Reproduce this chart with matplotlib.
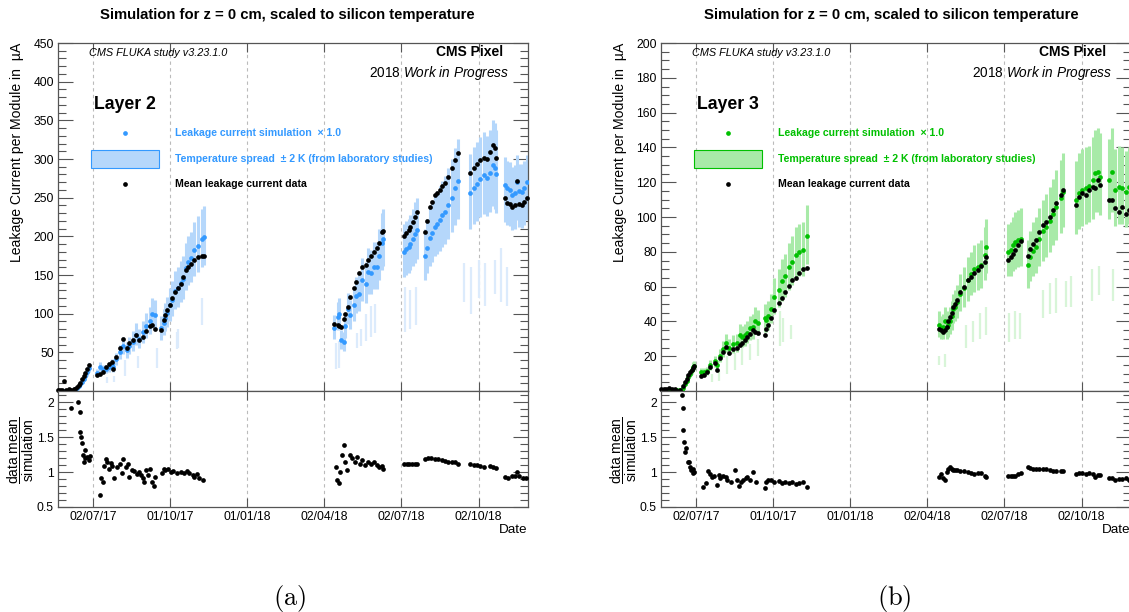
import numpy as np
import matplotlib
matplotlib.use("Agg")
import matplotlib.pyplot as plt
import matplotlib.dates as mdates
from matplotlib.patches import Rectangle
from matplotlib.ticker import MultipleLocator, FixedLocator, FixedFormatter

plt.rcParams['font.family'] = ['Liberation Sans', 'DejaVu Sans']
plt.rcParams['mathtext.fontset'] = 'custom'
plt.rcParams['mathtext.rm'] = 'Liberation Sans'
plt.rcParams['mathtext.it'] = 'Liberation Sans:italic'
plt.rcParams['mathtext.bf'] = 'Liberation Sans:bold'

# days are counted from 02/07/17
T0 = np.datetime64('2017-07-02')
grid_dates = ['2017-07-02', '2017-10-01', '2018-01-01', '2018-04-02', '2018-07-02', '2018-10-02']

# ---------------- Layer 2 ----------------
l2_day = [-41, -39, -37, -34, -32, -29, -26, -23, -21, -19, -17, -15, -13, -11, -9, -7, -5,
          5, 8, 12, 15, 19, 22, 24, 27, 32, 36, 40, 43, 47, 51, 55, 59, 63, 67, 70, 73,
          81, 84, 85, 88, 91, 94, 97, 101, 104, 107, 110, 113, 116, 120, 125, 129, 131,
          286, 290, 292, 294, 297, 299, 302, 305, 309, 312, 315, 319, 324, 326, 330, 333, 336, 339, 342, 344,
          369, 371, 374, 376, 379, 382, 384,
          393, 396, 399, 402, 405, 408, 411, 414, 417, 421, 425, 429, 433,
          447, 451, 455, 459, 463, 467, 470, 474, 476, 478,
          488, 491, 494, 497, 500, 502, 505, 508, 511, 514]
l2_data = [1, 1, 1, 13, 1, 2, 1, 2, 3, 5, 8, 11, 15, 19, 23, 28, 33,
           21, 22, 25, 31, 35, 38, 29, 44, 55, 67, 55, 62, 66, 72, 66, 70, 77, 84, 85, 80,
           79, 92, 98, 105, 111, 120, 128, 133, 139, 148, 156, 160, 164, 169, 173, 174, 174,
           87, 85, 84, 83, 93, 100, 109, 122, 133, 141, 152, 160, 163, 169, 175, 180, 185, 192, 205, 207,
           200, 204, 208, 212, 219, 225, 231,
           206, 220, 238, 245, 253, 256, 260, 265, 269, 277, 288, 299, 308,
           282, 289, 294, 299, 301, 300, 309, 318, 314, 301,
           249, 243, 242, 238, 240, 271, 242, 240, 245, 249]
l2_sim = [0.5, 0.5, 0.5, 0.5, 0.5, 0.5, 0.5, 1, 2, 4, 6, 9, 12, 16, 20, 25, 30,
          23, 31, 28, 28, 31, 35, 31, 41, 50, 58, 53, 58, 64, 73, 67, 76, 84, 90, 100, 98,
          81, 88, 95, 101, 111, 118, 129, 133, 140, 145, 159, 167, 172, 182, 188, 196, 199,
          82, 96, 100, 66, 63, 84, 106, 98, 111, 123, 125, 143, 139, 154, 152, 161, 161, 175, 192, 197,
          180, 183, 186, 190, 197, 203, 208,
          174, 185, 198, 204, 212, 216, 221, 227, 232, 240, 250, 262, 272,
          256, 263, 268, 274, 279, 275, 282, 292, 288, 281,
          266, 262, 260, 254, 256, 270, 258, 257, 262, 270]
l2_lo = [0.5, 0.5, 0.5, 0.5, 0.5, 0.5, 0.5, 1, 2, 3, 5, 7, 10, 13, 16, 20, 25,
         19, 25, 23, 23, 25, 29, 25, 34, 41, 48, 43, 48, 52, 60, 55, 62, 69, 74, 82, 80,
         66, 72, 78, 83, 91, 97, 106, 109, 115, 119, 130, 137, 141, 149, 154, 161, 163,
         67, 79, 82, 54, 52, 69, 87, 80, 91, 101, 103, 117, 114, 126, 125, 132, 132, 144, 157, 162,
         148, 150, 153, 156, 162, 166, 171,
         143, 152, 162, 167, 174, 177, 181, 186, 190, 197, 205, 215, 223,
         210, 216, 220, 225, 229, 226, 231, 239, 236, 230,
         218, 215, 213, 208, 210, 221, 212, 211, 215, 221]
l2_hi = [0.5, 0.5, 0.5, 0.5, 0.5, 0.5, 0.5, 1, 2, 5, 7, 11, 14, 19, 24, 30, 36,
         28, 37, 34, 34, 37, 42, 37, 49, 60, 70, 64, 70, 77, 88, 80, 91, 101, 108, 120, 118,
         97, 106, 114, 121, 133, 142, 155, 160, 168, 174, 191, 200, 206, 218, 226, 235, 239,
         98, 115, 120, 79, 76, 101, 127, 118, 133, 148, 150, 172, 167, 185, 182, 193, 193, 210, 230, 236,
         216, 220, 223, 228, 236, 244, 250,
         209, 222, 238, 245, 254, 259, 265, 272, 278, 288, 300, 314, 326,
         307, 316, 322, 329, 335, 330, 338, 350, 346, 337,
         302, 298, 296, 290, 292, 305, 294, 293, 298, 305]
l2_rday = [-26, -18, -16, -15, -14, -13, -12, -11, -10, -9, -7, -5, -4,
           8, 10, 12, 13, 15, 17, 19, 21, 23, 25, 29, 32, 34, 36, 39, 42, 43, 46, 49, 52,
           55, 57, 59, 61, 63, 65, 67, 70, 72, 73,
           82, 84, 85, 89, 92, 95, 99, 104, 108, 111, 114, 118, 120, 123, 126, 130,
           288, 289, 291, 293, 295, 297, 299, 301, 304, 307, 310, 313, 316, 319, 322, 326, 330, 333, 336, 339, 342, 344,
           369, 372, 375, 378, 381, 384,
           393, 397, 401, 405, 409, 413, 417, 421, 425, 429, 433,
           447, 451, 455, 459, 463, 470, 474, 477,
           488, 492, 496, 500, 502, 505, 509, 513]
l2_ratio = [1.91, 2.0, 1.86, 1.58, 1.5, 1.42, 1.24, 1.15, 1.31, 1.2, 1.22, 1.17, 1.23,
            0.67, 0.91, 0.86, 1.08, 1.19, 1.15, 1.04, 1.13, 1.09, 0.91, 1.07, 1.12, 0.99, 1.19, 1.07, 1.12, 0.93, 1.03, 1.02, 0.97,
            1.0, 0.96, 0.91, 0.86, 1.03, 0.96, 1.05, 0.86, 0.80, 0.93,
            0.98, 1.05, 1.03, 1.04, 1.0, 1.02, 0.99, 1.0, 0.99, 1.02, 0.98, 0.96, 0.93, 0.97, 0.91, 0.89,
            1.07, 0.89, 0.84, 1.0, 1.24, 1.39, 1.15, 1.03, 1.24, 1.2, 1.15, 1.22, 1.12, 1.17, 1.1, 1.15, 1.12, 1.15, 1.1, 1.07, 1.09, 1.05,
            1.11, 1.12, 1.11, 1.12, 1.11, 1.11,
            1.18, 1.2, 1.2, 1.19, 1.18, 1.17, 1.16, 1.15, 1.15, 1.14, 1.12,
            1.11, 1.10, 1.10, 1.09, 1.07, 1.08, 1.07, 1.06,
            0.93, 0.92, 0.94, 0.94, 1.0, 0.94, 0.92, 0.91]
# pale bars of the temperature band lying below the main band
l2_fday = [17, 25, 38, 53, 76, 99, 101, 129, 288, 292, 313, 317, 324, 330, 334,
           370, 376, 383, 440, 448, 457, 465, 476, 484, 491]
l2_flo = [10, 12, 20, 30, 30, 54, 55, 85, 28, 30, 55, 58, 65, 70, 75,
          76, 80, 85, 115, 100, 120, 110, 125, 115, 110]
l2_fhi = [18, 20, 40, 45, 55, 76, 80, 120, 62, 65, 75, 80, 100, 110, 112,
          135, 130, 135, 165, 160, 170, 165, 170, 185, 160]

# ---------------- Layer 3 ----------------
l3_day = [-41, -38, -35, -32, -28, -25, -22, -19, -17, -15, -13, -11, -9, -7, -5, -3, -2,
          6, 10, 13, 17, 22, 25, 28, 32, 35, 39, 44, 48, 52, 55, 58, 61, 64, 67, 70, 73,
          82, 83, 85, 89, 93, 98, 102, 106, 110, 114, 118, 122, 127, 131,
          288, 290, 293, 295, 297, 299, 301, 303, 305, 307, 309, 313, 317, 322, 326, 330, 334, 338, 342, 344,
          370, 373, 376, 378, 382, 385,
          393, 396, 399, 403, 407, 411, 415, 419, 423, 427, 432, 435,
          450, 454, 458, 462, 466, 470, 473, 476, 479,
          489, 493, 497, 501, 505, 509, 513]
l3_data = [1, 1, 1, 1.5, 1, 1, 0, 0.5, -1.5, 3, 5, 7, 9, 11, 12, 13.5, 14.5,
           8.6, 9.2, 11.1, 14, 15.9, 12.1, 18.8, 22.6, 25.5, 21.6, 24, 24.5, 26.4, 27.4, 29.3, 31.2, 32.8, 35.1, 34.1, 33.5,
           32.2, 35.4, 37.9, 41.8, 46.6, 50.4, 53.3, 57.1, 60.3, 63.8, 64.8, 67.6, 69.9, 70.5,
           35.4, 35, 34.1, 35, 37, 40, 42.7, 45, 48.5, 50, 52.3, 57.1, 60, 63.8, 65.7, 67.6, 69.5, 71.8, 74.3, 76.8,
           75.3, 76.8, 78.7, 81, 83.8, 86.3,
           77.6, 81.8, 84.7, 87, 91.6, 95.4, 97.3, 100, 104, 108, 112.6, 115.5,
           106.9, 111.7, 113.6, 112.6, 115.5, 117.4, 116.5, 121.3, 118.4,
           110, 109.8, 105, 103, 105.9, 102, 104]
l3_sim = [0.5, 0.5, 0.5, 0.5, 0.5, 0.5, 0.5, 0.5, 0.5, 2, 4, 6, 8, 10, 12, 14, 14.5,
          11, 11, 11.5, 15, 17, 15, 20, 24, 27.5, 25, 27, 27.5, 32, 31, 32, 33.5, 36, 37, 40, 39,
          42, 41, 43, 47, 54, 58, 63, 66, 71, 74, 78, 80, 81, 89,
          38, 36, 37, 40, 37, 38, 40, 43, 47, 48.5, 51, 56, 59, 64, 67, 70, 71, 72.5, 78, 82.5,
          80, 81, 83.8, 85.5, 86.6, 87.5,
          72.5, 77, 80.5, 83, 87.5, 92, 94, 97.5, 102, 106, 111, 114.5,
          109.8, 114, 115.5, 116.5, 117.8, 121.3, 125.1, 126.1, 123.2,
          121, 126, 115.5, 117.4, 116.5, 114.6, 117]
l3_lo = [0.5, 0.5, 0.5, 0.5, 0.5, 0.5, 0.5, 0.5, 0.5, 1.6, 3.3, 4.9, 6.6, 8.2, 9.8, 11.5, 12,
         9, 9, 9.4, 12.3, 14, 12.3, 16.4, 19.7, 22.5, 20.5, 22, 22.5, 26, 25.4, 26, 27.5, 29.5, 30, 33, 32,
         34, 34, 35, 39, 44, 48, 52, 54, 58, 61, 64, 66, 66, 73,
         31, 30, 30, 33, 30, 31, 33, 35, 39, 40, 42, 46, 48, 52, 55, 57, 58, 59, 64, 68,
         66, 66, 69, 70, 71, 72,
         59, 63, 66, 68, 72, 75, 77, 80, 84, 87, 91, 94,
         90, 93, 95, 96, 97, 99, 103, 103, 101,
         99, 103, 95, 96, 96, 94, 96]
l3_hi = [0.5, 0.5, 0.5, 0.5, 0.5, 0.5, 0.5, 0.5, 0.5, 2.4, 4.8, 7.2, 9.6, 12, 14.4, 16.8, 17.4,
         13.2, 13.2, 13.8, 18, 20.4, 18, 24, 28.8, 33, 30, 32.4, 33, 38.4, 37.2, 38.4, 40, 43, 44.4, 48, 46.8,
         50, 49, 52, 56, 65, 70, 76, 79, 85, 89, 94, 96, 97, 107,
         46, 43, 44, 48, 44, 46, 48, 52, 56, 58, 61, 67, 71, 77, 80, 84, 85, 87, 94, 99,
         96, 97, 100, 103, 104, 105,
         87, 92, 97, 100, 105, 110, 113, 117, 122, 127, 133, 137,
         132, 137, 139, 140, 141, 146, 150, 151, 148,
         145, 151, 139, 141, 140, 138, 140]
l3_rday = [-17, -16, -15, -14, -13, -12, -10, -8, -7, -6, -4, -3, -2,
           8, 12, 14, 16, 19, 21, 25, 27, 29, 32, 35, 37, 41, 46, 48, 51, 53, 56, 59, 61, 64, 67, 71,
           82, 83, 85, 89, 93, 98, 102, 106, 110, 114, 118, 122, 127, 131,
           288, 290, 293, 295, 297, 299, 301, 303, 305, 307, 309, 313, 317, 322, 326, 330, 334, 338, 342, 344,
           370, 373, 376, 378, 382, 385,
           393, 396, 399, 403, 407, 411, 415, 419, 423, 427, 432, 435,
           450, 454, 458, 462, 466, 470, 473, 476, 479,
           489, 493, 497, 501, 505, 509, 513]
l3_ratio = [2.1, 1.92, 1.6, 1.43, 1.28, 1.34, 1.15, 1.14, 1.07, 1.03, 1.05, 0.98, 1.0,
            0.78, 0.85, 1.02, 0.97, 0.93, 0.94, 0.81, 0.96, 0.91, 0.95, 0.93, 0.89, 0.86, 1.03, 0.89, 0.8, 0.86, 0.89, 0.91, 0.93,
            0.89, 1.0, 0.86,
            0.77, 0.86, 0.88, 0.89, 0.86, 0.87, 0.85, 0.86, 0.85, 0.86, 0.83, 0.84, 0.86, 0.79,
            0.93, 0.97, 0.92, 0.88, 1.0, 1.05, 1.07, 1.05, 1.03, 1.03, 1.03, 1.02, 1.02, 1.0, 0.98, 0.97, 0.98, 0.99, 0.95, 0.93,
            0.94, 0.95, 0.94, 0.95, 0.97, 0.99,
            1.07, 1.06, 1.05, 1.05, 1.05, 1.04, 1.04, 1.03, 1.02, 1.02, 1.01, 1.01,
            0.97, 0.98, 0.98, 0.97, 0.98, 0.97, 0.93, 0.96, 0.96,
            0.91, 0.92, 0.89, 0.9, 0.9, 0.91, 0.89]
l3_fday = [19, 27, 37, 46, 55, 64, 73, 100, 103, 112, 288, 295, 320, 328, 336, 344,
           371, 378, 384, 411, 419, 427, 438, 444, 469, 477, 494]
l3_flo = [5, 6, 10, 12, 15, 18, 20, 26, 28, 30, 15, 14, 25, 28, 30, 32,
          28, 30, 30, 42, 44, 45, 48, 48, 52, 55, 52]
l3_fhi = [10, 12, 20, 22, 25, 27, 30, 46, 42, 38, 20, 21, 38, 40, 45, 48,
          45, 46, 45, 58, 62, 65, 63, 66, 70, 72, 70]


def to_date(days):
    return T0 + np.array(days).astype('timedelta64[D]')


FRAME = '#555555'
fig = plt.figure(figsize=(11.29, 6.12), dpi=100)


def draw_layer(x0, name, col, band, faint, ymax, ymaj, ymin_step,
               day, data, sim, lo, hi, rday, ratio, fday, flo, fhi):
    ax = fig.add_axes([x0, 0.3611, 0.4163, 0.5686])
    axr = fig.add_axes([x0, 0.1716, 0.4163, 0.1895])
    d = to_date(day)

    ax.vlines(to_date(fday), flo, fhi, color=faint, lw=1.6, zorder=1)
    ax.vlines(d, lo, hi, color=band, lw=2.2, zorder=2)
    ax.plot(d, sim, 'o', ms=3.4, mew=0, color=col, zorder=3)
    ax.plot(d, data, 'o', ms=3.4, mew=0, color='black', zorder=4, clip_on=False)
    axr.plot(to_date(rday), ratio, 'o', ms=3.4, mew=0, color='black', zorder=4)

    xlim = (np.datetime64('2017-05-21T12:00'), np.datetime64('2018-11-29T12:00'))
    ticks = [mdates.date2num(np.datetime64(g)) for g in grid_dates]
    for a in (ax, axr):
        a.set_xlim(xlim)
        a.xaxis.set_major_locator(FixedLocator(ticks))
        a.xaxis.set_major_formatter(mdates.DateFormatter('%d/%m/%y'))
        a.grid(axis='x', ls=(0, (3, 3)), color='#bbbbbb', lw=0.8)
        a.set_axisbelow(True)
        for s in a.spines.values():
            s.set_color(FRAME)
            s.set_linewidth(0.9)
        a.tick_params(which='both', direction='in', top=True, right=True,
                      color=FRAME, width=0.8, labelsize=8.7, pad=3)
        a.tick_params(axis='y', which='major', length=11)
        a.tick_params(axis='y', which='minor', length=5.5)
        a.tick_params(axis='x', which='major', length=6.5)
    ax.tick_params(axis='x', labelbottom=False)

    ax.set_ylim(0, ymax)
    ax.set_yticks(np.arange(ymaj, ymax + 1, ymaj))
    ax.yaxis.set_minor_locator(MultipleLocator(ymin_step))
    axr.set_ylim(0.5, 2.16)
    axr.yaxis.set_major_locator(FixedLocator([0.5, 1, 1.5, 2]))
    axr.yaxis.set_major_formatter(FixedFormatter(['0.5', '1', '1.5', '2']))
    axr.yaxis.set_minor_locator(MultipleLocator(0.1))

    # header and legend
    ax.text(0.066, 0.971, 'CMS FLUKA study v3.23.1.0', transform=ax.transAxes,
            style='italic', size=7.8, va='center')
    ax.text(0.947, 0.974, 'CMS Pixel', transform=ax.transAxes, weight='bold',
            size=10, ha='right', va='center')
    ax.text(0.96, 0.914, r'2018 $\mathit{Work\ in\ Progress}$', transform=ax.transAxes,
            size=9.8, ha='right', va='center')
    ax.text(0.077, 0.822, name, transform=ax.transAxes, weight='bold', size=12.7, va='center')

    ax.plot([0.1426], [0.741], 'o', transform=ax.transAxes, ms=3.4, mew=0, color=col)
    ax.add_patch(Rectangle((0.0702, 0.641), 0.1447, 0.0515, transform=ax.transAxes,
                           fc=band, ec=col, lw=0.8))
    ax.plot([0.1426], [0.595], 'o', transform=ax.transAxes, ms=3.4, mew=0, color='black')
    ax.text(0.249, 0.741, 'Leakage current simulation  \u00d7 1.0', transform=ax.transAxes,
            color=col, weight='bold', size=7.6, va='center')
    ax.text(0.249, 0.667, 'Temperature spread  \u00b1 2 K (from laboratory studies)',
            transform=ax.transAxes, color=col, weight='bold', size=7.6, va='center')
    ax.text(0.249, 0.595, 'Mean leakage current data', transform=ax.transAxes,
            color='black', weight='bold', size=7.6, va='center')
    return ax, axr


draw_layer(58 / 1129, 'Layer 2', '#3399ff', '#b5d7fb', '#dcebfc', 450, 50, 10,
           l2_day, l2_data, l2_sim, l2_lo, l2_hi, l2_rday, l2_ratio, l2_fday, l2_flo, l2_fhi)
draw_layer(661 / 1129, 'Layer 3', '#00c000', '#a8eaa8', '#d8f5d8', 200, 20, 5,
           l3_day, l3_data, l3_sim, l3_lo, l3_hi, l3_rday, l3_ratio, l3_fday, l3_flo, l3_fhi)

for px, cx, tag in [(0, 287, '(a)'), (603, 891, '(b)')]:
    fig.text(cx / 1129, 1 - 15 / 612, 'Simulation for z = 0 cm, scaled to silicon temperature',
             weight='bold', size=10.7, ha='center', va='center')
    fig.text((px + 17) / 1129, 1 - 43 / 612, 'Leakage Current per Module in  \u00b5A',
             rotation=90, size=10.1, ha='center', va='top')
    fig.text((px + 21) / 1129, 1 - 450 / 612, r'$\dfrac{\mathrm{data\ mean}}{\mathrm{simulation}}$',
             rotation=90, size=10, ha='center', va='center')
    fig.text((px + 527) / 1129, 1 - 530 / 612, 'Date', size=9.7, ha='right', va='center')
    fig.text((cx + 3) / 1129, 1 - 598 / 612, r'$\mathrm{' + tag + '}$', math_fontfamily='cm',
             size=19, ha='center', va='center')

fig.savefig('out.png', dpi=100)
